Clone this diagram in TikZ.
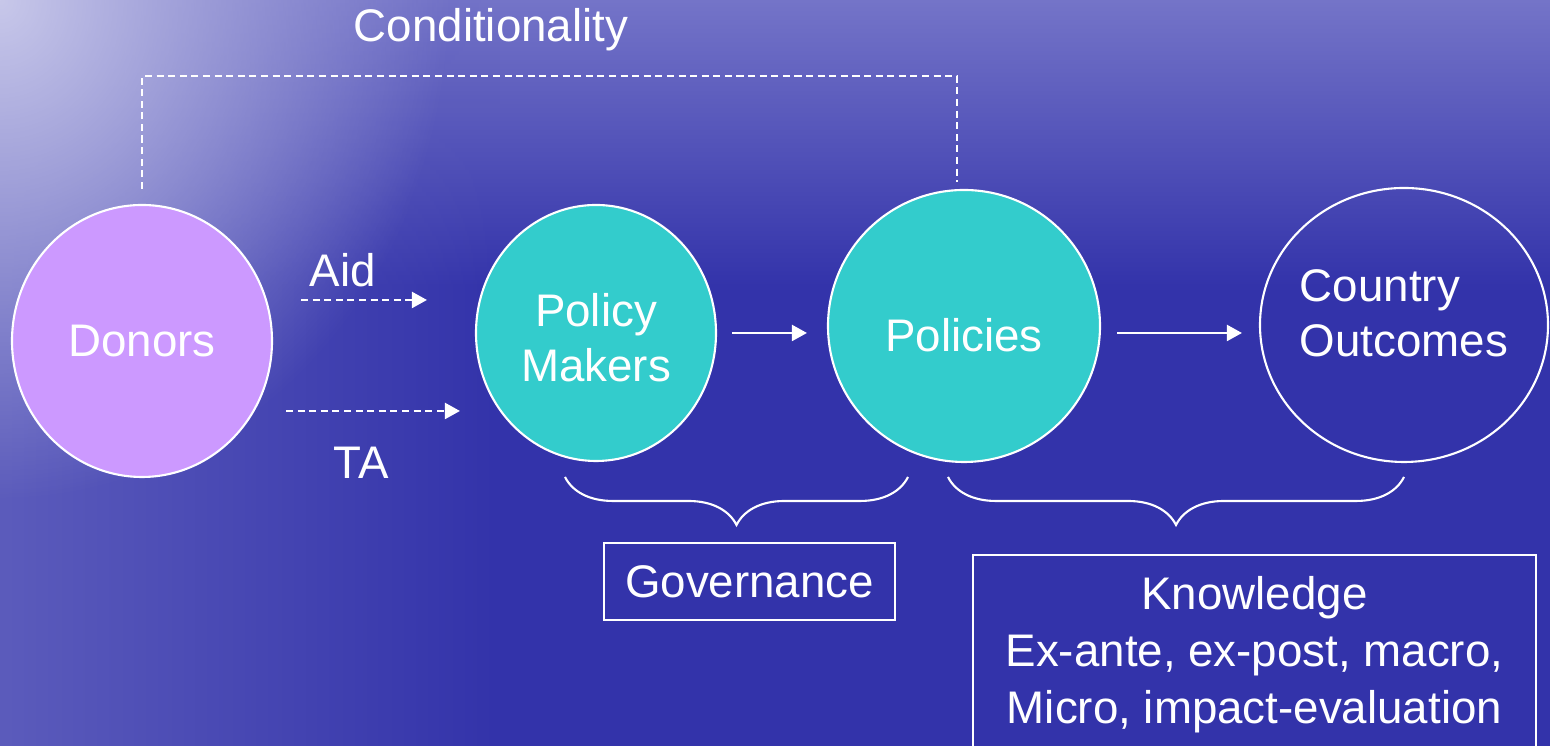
\documentclass[tikz,border=0pt]{standalone}
\usepackage{fontspec}
\setmainfont{Liberation Sans}
\usepackage{xcolor}
\usetikzlibrary{shapes.geometric,arrows.meta,decorations.pathreplacing,fadings}
\definecolor{bgcolor}{HTML}{3333AA}
\definecolor{topcolor}{HTML}{7474C8}
\definecolor{sidecolor}{HTML}{5C5CBC}
\definecolor{glowcolor}{HTML}{C8C8EA}
\definecolor{donorcolor}{HTML}{CC99FF}
\definecolor{policycolor}{HTML}{33CCCC}
\tikzfading[name=glowfade, inner color=transparent!0, outer color=transparent!100]
\tikzset{
  bubble/.style={draw=white, line width=0.6pt, ellipse, inner sep=0pt, text=white, font=\fontsize{13pt}{15.6pt}\selectfont},
  flow/.style={draw=white, line width=0.6pt, -{Triangle[length=1.5mm, width=1.6mm]}},
  dashflow/.style={flow, dash pattern=on 2pt off 1.3pt},
  condline/.style={draw=white, line width=0.6pt, dash pattern=on 2pt off 1.3pt},
  brc/.style={draw=white, line width=0.6pt, decorate, decoration={brace, amplitude=4.8mm}},
  labelbox/.style={draw=white, line width=0.6pt, rectangle, inner sep=0pt, text=white, font=\fontsize{13pt}{16.2pt}\selectfont},
  lbl/.style={text=white, inner sep=0pt, font=\fontsize{13pt}{15.6pt}\selectfont},
}

\begin{document}
\begin{tikzpicture}%
% background
\useasboundingbox (0,0) rectangle (15.5,7.46);%
\clip (0,0) rectangle (15.5,7.46);%
\fill[bgcolor] (0,0) rectangle (15.5,7.46);%
\shade[top color=topcolor, bottom color=bgcolor] (0,4.6) rectangle (15.5,7.46);%
\fill[sidecolor, path fading=east] (0,0) rectangle (5,7.46);%
\fill[glowcolor, path fading=glowfade] (0,7.46) ellipse (4.5 and 5);%
% circles
\node[bubble, fill=donorcolor, minimum width=2.6cm, minimum height=2.72cm] (donors) at (1.42, 4.05) {Donors};%
\node[bubble, fill=policycolor, minimum width=2.4cm, minimum height=2.56cm, label={[lbl, align=center, yshift=-0.5mm]center:Policy\\Makers}] (makers) at (5.96, 4.13) {};%
\node[bubble, fill=policycolor, minimum width=2.72cm, minimum height=2.72cm, label={[lbl, yshift=-0.9mm]center:Policies}] (policies) at (9.64, 4.20) {};%
\node[bubble, minimum width=2.88cm, minimum height=2.74cm, label={[lbl, align=left, yshift=1.2mm]center:Country\\Outcomes}] (outcomes) at (14.04, 4.21) {};%
% labels
\node[lbl] (cond) at (4.91, 7.16) {Conditionality};%
\node[lbl] (aid) at (3.43, 4.76) {Aid};%
\node[lbl] (ta) at (3.61, 2.83) {TA};%
\node[labelbox, minimum width=2.91cm, minimum height=0.77cm] (gov) at (7.495, 1.645) {Governance};%
\node[labelbox, minimum width=5.63cm, minimum height=2.0cm, align=center] (know) at (12.545, 0.91) {Knowledge\\Ex-ante, ex-post, macro,\\Micro, impact-evaluation};%
% arrows
\draw[dashflow] ([shift={(0.28,0.41)}]donors.east) -- ([shift={(-0.48,0.33)}]makers.west);%
\draw[dashflow] ([shift={(0.13,-0.70)}]donors.east) -- ([shift={(-0.15,-0.78)}]makers.west);%
\draw[flow] ([xshift=1.5mm]makers.east) -- ([xshift=-2mm]policies.west |- makers.east);%
\draw[flow] ([xshift=1.6mm]policies.east |- makers.east) -- ([xshift=-1.7mm]outcomes.west |- makers.east);%
\draw[condline] ([yshift=1.5mm]donors.north) -- ++(0,1.13) -| ([shift={(-0.07,0.07)}]policies.north);%
% braces
\coordinate (b1l) at (5.65, 2.69);%
\coordinate (b1r) at (9.08, 2.69);%
\coordinate (b2l) at (9.48, 2.69);%
\coordinate (b2r) at (14.04, 2.69);%
\draw[brc] (b1r) -- (b1l);%
\draw[brc] (b2r) -- (b2l);%
\end{tikzpicture}
\end{document}
